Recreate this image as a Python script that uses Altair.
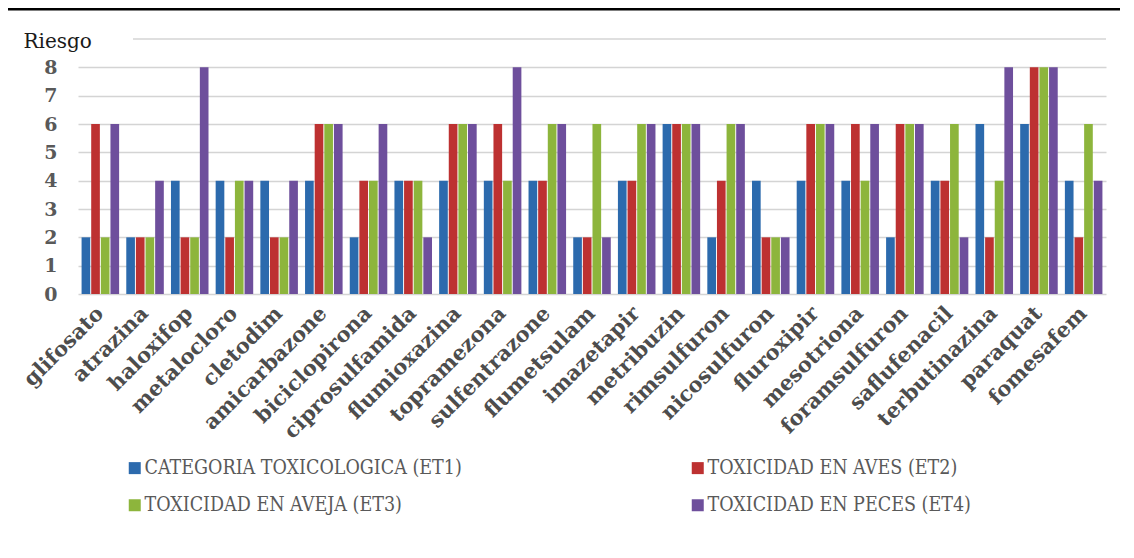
import altair as alt
import pandas as pd

herbicidas = ["glifosato", "atrazina", "haloxifop", "metalocloro", "cletodim",
              "amicarbazone", "biciclopirona", "ciprosulfamida", "flumioxazina",
              "topramezona", "sulfentrazone", "flumetsulam", "imazetapir",
              "metribuzin", "rimsulfuron", "nicosulfuron", "fluroxipir",
              "mesotriona", "foramsulfuron", "saflufenacil", "terbutinazina",
              "paraquat", "fomesafem"]
et1 = [2, 2, 4, 4, 4, 4, 2, 4, 4, 4, 4, 2, 4, 6, 2, 4, 4, 4, 2, 4, 6, 6, 4]
et2 = [6, 2, 2, 2, 2, 6, 4, 4, 6, 6, 4, 2, 4, 6, 4, 2, 6, 6, 6, 4, 2, 8, 2]
et3 = [2, 2, 2, 4, 2, 6, 4, 4, 6, 4, 6, 6, 6, 6, 6, 2, 6, 4, 6, 6, 4, 8, 6]
et4 = [6, 4, 8, 4, 4, 6, 6, 2, 6, 8, 6, 2, 6, 6, 6, 2, 6, 6, 6, 2, 8, 8, 4]

series = ["CATEGORIA TOXICOLOGICA (ET1)", "TOXICIDAD EN AVES (ET2)",
          "TOXICIDAD EN AVEJA (ET3)", "TOXICIDAD EN PECES (ET4)"]
colors = ["#2c6aad", "#bd3131", "#8db53c", "#6e4f9c"]
# legend fills column-wise: order so rows read ET1 ET2 / ET3 ET4
legend_order = [0, 2, 1, 3]
y_ticks = [0, 1, 2, 3, 4, 5, 6, 7, 8]
y_max = 9

rows = []
for i, h in enumerate(herbicidas):
    for s, vals in zip(series, [et1, et2, et3, et4]):
        rows.append({"herbicida": h, "serie": s, "valor": vals[i]})
df = pd.DataFrame(rows)

W, H = 1028, 255
GRID = "#d4d4d4"
SERIF = "'DejaVu Serif', serif"
COND = "'DejaVu Serif Condensed', 'DejaVu Serif', serif"

y_enc = alt.Y("valor:Q", scale=alt.Scale(domain=[0, y_max], nice=False),
              axis=alt.Axis(title="Riesgo", values=y_ticks, grid=True,
                            gridColor=GRID, gridWidth=1.5, ticks=False,
                            domain=False, labelFont=SERIF,
                            labelFontWeight="bold", labelFontSize=19,
                            labelColor="#595959", labelPadding=21,
                            labelOverlap=False,
                            titleAngle=0, titleX=-55, titleY=8,
                            titleAlign="left", titleBaseline="alphabetic",
                            titleFont=SERIF, titleFontSize=20,
                            titleFontWeight="normal", titleColor="#1a1a1a"))

bars = alt.Chart(df).mark_bar().encode(
    x=alt.X("herbicida:N", sort=herbicidas,
            scale=alt.Scale(paddingInner=0.16, paddingOuter=0.08),
            axis=alt.Axis(title=None, labelAngle=-45, labelAlign="right",
                          labelBaseline="middle", labelFont=SERIF,
                          labelFontWeight="bold", labelFontSize=21,
                          labelColor="#4d4d4d", labelPadding=16,
                          labelOverlap=False, labelLimit=400,
                          ticks=False, domain=False, grid=False)),
    xOffset=alt.XOffset("serie:N", sort=series, scale=alt.Scale(paddingInner=0.1)),
    y=y_enc,
    color=alt.Color("serie:N",
                    scale=alt.Scale(domain=[series[k] for k in legend_order],
                                    range=[colors[k] for k in legend_order]),
                    legend=alt.Legend(title=None, orient="none", legendX=47,
                                      legendY=419, columns=2, columnPadding=226,
                                      rowPadding=16.5, symbolType="square",
                                      symbolSize=144, symbolStrokeWidth=0,
                                      labelFont=COND,
                                      labelFontSize=19.5, labelColor="#595959",
                                      labelOffset=0, labelLimit=500,
                                      padding=0, gridAlign="all")),
)

top_grid = alt.Chart(pd.DataFrame({"valor": [y_max]})).mark_rule(
    color=GRID, strokeWidth=1.5).encode(
    y=y_enc, x=alt.value(55), x2=alt.value(W))

black_line = alt.Chart(pd.DataFrame({"v": [0]})).mark_rule(
    color="black", strokeWidth=3).encode(
    x=alt.value(-70), x2=alt.value(W + 42), y=alt.value(-30))

chart = alt.layer(bars, top_grid, black_line).properties(
    width=W, height=H,
    background="white",
    autosize=alt.AutoSizeParams(type="none"),
    padding={"left": 70, "top": 31, "right": 14, "bottom": 248},
).configure_view(stroke=None, strokeWidth=0)

chart.save("out.html", embed_options={"renderer": "svg", "actions": False})
